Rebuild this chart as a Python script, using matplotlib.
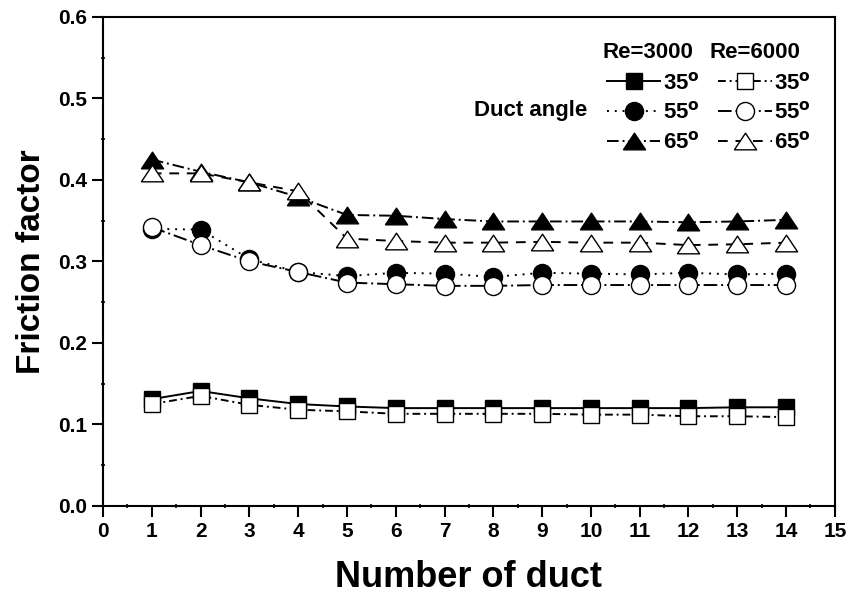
import matplotlib.pyplot as plt
from matplotlib.ticker import MultipleLocator

plt.rcParams['font.family'] = ['Liberation Sans', 'DejaVu Sans']
plt.rcParams['font.weight'] = 'bold'
plt.rcParams['mathtext.default'] = 'bf'

duct = list(range(1, 15))

# Re=3000
f3000_35 = [0.131, 0.141, 0.132, 0.125, 0.122, 0.120, 0.120, 0.120, 0.120, 0.120, 0.120, 0.120, 0.121, 0.121]
f3000_55 = [0.340, 0.339, 0.303, 0.287, 0.282, 0.286, 0.285, 0.281, 0.286, 0.285, 0.284, 0.286, 0.284, 0.285]
f3000_65 = [0.425, 0.410, 0.397, 0.379, 0.357, 0.356, 0.352, 0.349, 0.349, 0.349, 0.349, 0.348, 0.349, 0.351]
# Re=6000
f6000_35 = [0.125, 0.135, 0.124, 0.118, 0.116, 0.113, 0.113, 0.113, 0.113, 0.112, 0.112, 0.110, 0.110, 0.109]
f6000_55 = [0.342, 0.320, 0.300, 0.287, 0.274, 0.272, 0.270, 0.270, 0.271, 0.271, 0.271, 0.271, 0.271, 0.271]
f6000_65 = [0.408, 0.408, 0.397, 0.386, 0.328, 0.325, 0.323, 0.323, 0.324, 0.323, 0.323, 0.320, 0.321, 0.323]

# a bit flatter than the default '^'
tri = [(-1, -0.75), (1, -0.75), (0, 0.75), (-1, -0.75)]

fig = plt.figure(figsize=(8.48, 6.03), dpi=100)
ax = fig.add_axes([0.1215, 0.161, 0.863, 0.811])

lw = 1.4
l1, = ax.plot(duct, f3000_35, color='k', lw=lw, ls='-', marker='s', ms=11, mfc='k', mec='k')
l2, = ax.plot(duct, f3000_55, color='k', lw=lw, ls=(0, (1, 3)), marker='o', ms=13, mfc='k', mec='k')
l3, = ax.plot(duct, f3000_65, color='k', lw=lw, ls=(0, (6, 2, 1, 2)), marker=tri, ms=16, mfc='k', mec='k')
l4, = ax.plot(duct, f6000_35, color='k', lw=lw, ls=(0, (4, 2, 1, 2)), marker='s', ms=11, mfc='w', mec='k', mew=1)
l5, = ax.plot(duct, f6000_55, color='k', lw=lw, ls=(0, (7, 2, 1, 2)), marker='o', ms=13, mfc='w', mec='k', mew=1)
l6, = ax.plot(duct, f6000_65, color='k', lw=lw, ls=(0, (5, 4)), marker=tri, ms=16, mfc='w', mec='k', mew=1)

ax.set_xlim(0, 15)
ax.set_ylim(0, 0.6)
ax.xaxis.set_major_locator(MultipleLocator(1))
ax.xaxis.set_minor_locator(MultipleLocator(0.5))
ax.yaxis.set_major_locator(MultipleLocator(0.1))
ax.yaxis.set_minor_locator(MultipleLocator(0.05))
ax.tick_params(which='major', direction='out', length=8, width=1.5, labelsize=15)
ax.tick_params(which='minor', direction='inout', length=3, width=1.2)
for s in ax.spines.values():
    s.set_linewidth(1.5)
ax.yaxis.set_major_formatter(plt.FormatStrFormatter('%.1f'))

ax.set_xlabel('Number of duct', fontsize=26, fontweight='bold', labelpad=14)
ax.set_ylabel('Friction factor', fontsize=24, fontweight='bold', labelpad=8)

labels = ['35$^{o}$', '55$^{o}$', '65$^{o}$', '35$^{o}$', '55$^{o}$', '65$^{o}$']
leg = ax.legend([l1, l2, l3, l4, l5, l6], labels, ncol=2, frameon=False,
                fontsize=16, numpoints=1, handlelength=2.4, handletextpad=0.1,
                columnspacing=0.85, labelspacing=0.35, borderpad=0, borderaxespad=0,
                loc='upper left', bbox_to_anchor=(607 / 848, 1 - 72 / 603),
                bbox_transform=fig.transFigure)

fig.text(648 / 848, 1 - 53 / 603, 'Re=3000', fontsize=16, fontweight='bold', ha='center', va='center')
fig.text(755 / 848, 1 - 53 / 603, 'Re=6000', fontsize=16, fontweight='bold', ha='center', va='center')
fig.text(587 / 848, 1 - 111 / 603, 'Duct angle', fontsize=16, fontweight='bold', ha='right', va='center')

fig.savefig('out.png', dpi=100)
